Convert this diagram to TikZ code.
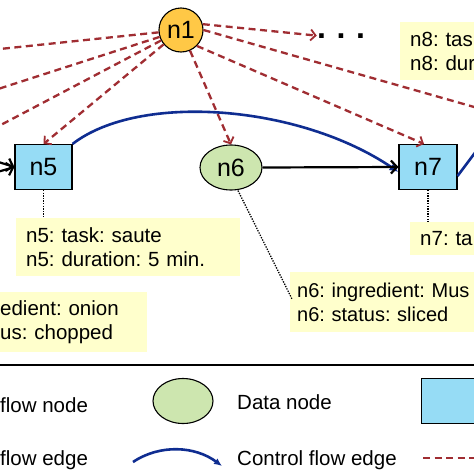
\documentclass[tikz,border=0pt]{standalone}
\usepackage{fontspec}
\setmainfont{Liberation Sans}
\usetikzlibrary{arrows.meta,shapes.geometric}
\definecolor{ctrl}{RGB}{160,45,50}
\definecolor{dflow}{RGB}{15,45,145}
\definecolor{lblfill}{RGB}{255,255,204}
\definecolor{nodeorange}{RGB}{255,200,70}
\definecolor{databox}{RGB}{150,220,245}
\definecolor{flowell}{RGB}{205,230,175}
\frenchspacing
\tikzset{
  ctrlline/.style={draw=ctrl, line width=2.3pt, dash pattern=on 7pt off 4.5pt},
  ctrledge/.style={ctrlline, -{Straight Barb[length=5pt,width=11pt,line width=1.8pt]}},
  dflowedge/.style={draw=dflow, line width=2.6pt, -{Latex[length=9pt,width=8pt]}},
  dflowline/.style={draw=dflow, line width=2.6pt},
  flowedge/.style={draw=black, line width=2.2pt, -{Straight Barb[length=6pt,width=13pt,line width=2.2pt]}},
  noteline/.style={draw=black, line width=1.3pt, dash pattern=on 1.3pt off 1.3pt},
  datanode/.style={rectangle, draw=black, line width=1.1pt, fill=databox, minimum width=57pt, minimum height=45pt, inner sep=0pt, font=\fontsize{25}{28}\selectfont},
  flownode/.style={ellipse, draw=black, line width=1.1pt, fill=flowell, minimum width=62pt, minimum height=45pt, inner sep=0pt, font=\fontsize{25}{28}\selectfont},
  ctrlnode/.style={circle, draw=black, line width=1.1pt, fill=nodeorange, minimum size=44pt, inner sep=0pt, font=\fontsize{25}{28}\selectfont},
  infobox/.style={fill=lblfill, align=left, anchor=north west, inner xsep=10pt, inner ysep=0pt, font=\fontsize{20.5}{24.5}\selectfont},
  legtext/.style={anchor=west, inner sep=0pt, font=\fontsize{20.5}{24}\selectfont},
}
\begin{document}
\begin{tikzpicture}[x=1pt,y=-1pt]
\useasboundingbox (0,0) rectangle (474,474);
\clip (0,0) rectangle (474,474);
\fill[white] (0,0) rectangle (474,474);

% info boxes
\node[infobox, text width=204pt, minimum height=58pt] (l5) at (16,218) {n5: task: saute\\n5: duration: 5 min.};
\node[infobox, text width=137pt, minimum height=60pt] (l4) at (-10,292) {edient: onion\\us: chopped};
\node[infobox, inner xsep=7pt, text width=200pt, minimum height=60pt, font=\fontsize{20}{24.5}\selectfont] (l6) at (290,272) {n6: ingredient: Mus\\n6: status: sliced};
\node[infobox, text width=100pt, minimum height=58pt] (l8) at (400,22) {n8: tas\\n8: dur};
\node[infobox, text width=100pt, minimum height=33pt] (l7) at (410,222) {n7: ta};

% nodes
\node[ctrlnode] (n1) at (181,30) {n1};
\node[datanode] (n5) at (43.5,167) {n5};
\node[flownode] (n6) at (231,167.5) {n6};
\node[datanode, minimum width=58pt] (n7) at (428,167) {n7};
\node[anchor=base, inner sep=0pt, font=\fontsize{32}{32}\selectfont\bfseries] (dots) at (341,38) {.\,\,.\,\,.};

% free ends
\coordinate (cL1) at (-5,49.5);
\coordinate (cL2) at (-5,90);
\coordinate (cL3) at (-5,128);
\coordinate (cR8) at (490,111.5);
\coordinate (cIn1) at (-40,150);
\coordinate (cIn2) at (-40,183);
\coordinate (cOut) at (492,130);

% control flow edges
\draw[ctrlline] (n1) -- (cL1);
\draw[ctrlline] (n1) -- (cL2);
\draw[ctrlline] (n1) -- (cL3);
\draw[ctrledge] (n1) -- (n5.north);
\draw[ctrledge] (n1) -- (n6.north);
\draw[ctrledge] (n1.15) -- (dots.west);
\draw[ctrlline] (n1.0) -- (cR8);
\draw[ctrledge] (n1.south east) -- ([xshift=-4pt]n7.north);

% data flow edges
\draw[dflowedge] (n5.north east) .. controls (140,92) and (300,105) .. ([yshift=-5pt]n7.west);
\draw[dflowline] ([yshift=-9pt]n7.east) -- (cOut);

% flow edges
\draw[flowedge] (cIn1) -- (n5.west);
\draw[flowedge] (cIn2) -- (n5.west);
\draw[flowedge] (n6.east) -- (n7.west);

% note lines
\draw[noteline] (n5.south) -- (l5.north -| n5.south);
\draw[noteline] (n7.south) -- (l7.north -| n7.south);
\draw[noteline] ([xshift=7pt]n6.south) -- (292,299);

% separator
\coordinate (sepL) at (0,365);
\coordinate (sepR) at (474,365);
\draw[line width=1.6pt] (sepL) -- (sepR);

% legend
\node[legtext] (lt1) at (0,405) {flow node};
\node[flownode, minimum width=60pt, minimum height=45pt] (legell) at (183,401) {};
\node[legtext] (lt2) at (237,402) {Data node};
\node[datanode, anchor=north west, minimum width=62pt] (legrect) at (421,378) {};
\node[legtext] (lt3) at (0,460) {flow edge};
\coordinate (la) at (133,462);
\coordinate (lb) at (222,466);
\draw[draw=dflow, line width=2.6pt, -{Latex[length=8pt,width=7pt]}] (la) .. controls (160,444) and (195,446) .. (lb);
\node[legtext] (lt4) at (237,460) {Control flow edge};
\coordinate (lc) at (423,458);
\coordinate (ld) at (480,458);
\draw[ctrlline, line width=1.8pt] (lc) -- (ld);
\end{tikzpicture}
\end{document}
